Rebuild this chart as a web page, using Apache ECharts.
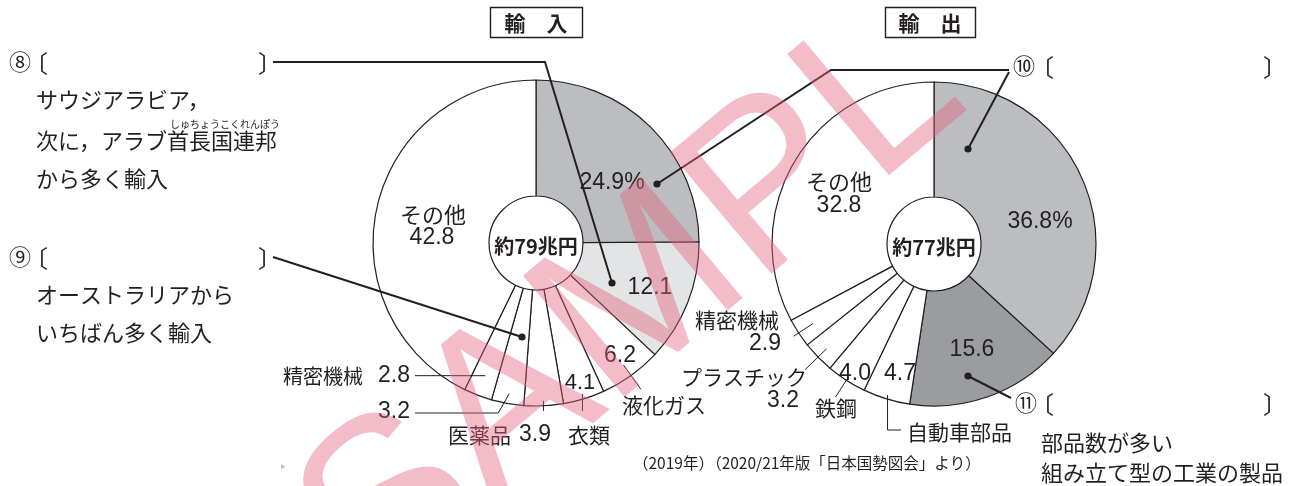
<!DOCTYPE html>
<html><head><meta charset="utf-8">
<script src="https://cdn.jsdelivr.net/npm/echarts@6/dist/echarts.min.js"></script>
<style>html,body{margin:0;padding:0;background:#fff}#c{width:1292px;height:486px}</style>
</head><body><div id="c"></div>
<script>
// ---- data ----
const importCategories = ['⑩', '⑧', '液化ガス', '衣類', '医薬品', '⑨', '精密機械', 'その他'];
const importValues = [24.9, 12.1, 6.2, 4.1, 3.9, 3.2, 2.8, 42.8];
const exportCategories = ['⑩', '⑪', '自動車部品', '鉄鋼', 'プラスチック', '精密機械', 'その他'];
const exportValues = [36.8, 15.6, 4.7, 4.0, 3.2, 2.9, 32.8];
const importTotal = '約79兆円';
const exportTotal = '約77兆円';
const titles = ['輸　入', '輸　出'];
const sourceNote = '（2019年）（2020/21年版「日本国勢図会」より）';
const watermarkText = 'SAMPL';

// ---- styles / layout ----
const importColors = ['#bcbdc0', '#e3e4e6', '#ffffff', '#ffffff', '#ffffff', '#ffffff', '#ffffff', '#ffffff'];
const exportColors = ['#bcbdc0', '#9b9c9f', '#ffffff', '#ffffff', '#ffffff', '#ffffff', '#ffffff'];
const L = {cx: 536, cy: 243, r0: 47, r: 163};
const R = {cx: 934, cy: 244, r0: 47, r: 162};
const INK = '#231f20';
const JP = '"Noto Sans CJK JP", sans-serif';
const NUM = '"Liberation Sans", Arial, "Noto Sans CJK JP", sans-serif';

function angles(vals) {
  const tot = vals.reduce((a, b) => a + b, 0);
  let acc = 0;
  return vals.map(v => { const a0 = acc / tot * 360; acc += v; const a1 = acc / tot * 360; return {a0, a1, mid: (a0 + a1) / 2}; });
}
function polar(c, r, deg) { const t = deg * Math.PI / 180; return [c.cx + r * Math.sin(t), c.cy - r * Math.cos(t)]; }
const fmt = v => v.toFixed(1);

const LA = angles(importValues), RA = angles(exportValues);

function T(text, x, y, font, align, valign, fill) {
  return {type: 'text', x: x, y: y, z: 100, silent: true,
    style: {text: text, fill: fill || INK, font: font, align: align || 'left', verticalAlign: valign || 'middle',
      textAlign: align || 'left', textVerticalAlign: valign || 'middle'}};
}
function Ln(points, w) { return {type: 'polyline', z: 90, silent: true, shape: {points: points}, style: {stroke: INK, lineWidth: w || 1, fill: null}}; }
function Dot(x, y) { return {type: 'circle', z: 95, silent: true, shape: {cx: x, cy: y, r: 3.6}, style: {fill: INK}}; }

const g = [];
// titles
g.push({type: 'rect', z: 90, shape: {x: 490.5, y: 7.5, width: 92, height: 30}, style: {fill: '#fff', stroke: INK, lineWidth: 1.4}});
g.push(T(titles[0], 536, 23, 'bold 21px ' + JP, 'center'));
g.push({type: 'rect', z: 90, shape: {x: 885.5, y: 7.5, width: 90, height: 30}, style: {fill: '#fff', stroke: INK, lineWidth: 1.4}});
g.push(T(titles[1], 930, 23, 'bold 21px ' + JP, 'center'));

// centre totals
g.push(T(importTotal, L.cx, L.cy + 3, 'bold 20px ' + JP, 'center'));
g.push(T(exportTotal, R.cx, R.cy + 3, 'bold 20px ' + JP, 'center'));

// ---- import labels ----
g.push(T(fmt(importValues[0]) + '%', 612, 183, '23px ' + NUM, 'center'));
g.push(T(fmt(importValues[1]), 650, 288, '23px ' + NUM, 'center'));
g.push(T(fmt(importValues[2]), 620, 356, '23px ' + NUM, 'center'));
g.push(T(fmt(importValues[3]), 580, 383, '22px ' + NUM, 'center'));
g.push(T(importCategories[2], 622, 405, '21px ' + JP, 'left'));
g.push(T(importCategories[3], 589, 435, '21px ' + JP, 'center'));
g.push(T(importCategories[4], 448, 435, '21px ' + JP, 'left'));
g.push(T(fmt(importValues[4]), 519, 435, '23px ' + NUM, 'left'));
g.push(T(fmt(importValues[5]), 410, 412, '23px ' + NUM, 'right'));
g.push(T(importCategories[6], 283, 376, '20px ' + JP, 'left'));
g.push(T(fmt(importValues[6]), 410, 376, '23px ' + NUM, 'right'));
g.push(T(importCategories[7], 433, 215, '22px ' + JP, 'center'));
g.push(T(fmt(importValues[7]), 432, 238, '23px ' + NUM, 'center'));
// import leaders
(function () {
  let a = polar(L, 150, LA[2].mid), b = polar(L, 180, LA[2].mid);
  g.push(Ln([a, b]));
  a = polar(L, 158, LA[3].mid); g.push(Ln([a, [a[0], 411]]));
  a = polar(L, 158, LA[4].mid); g.push(Ln([a, [a[0], 411]]));
  a = polar(L, 153, LA[5].mid); g.push(Ln([a, [a[0] - 11, 413], [415, 413]]));
  a = polar(L, 142, LA[6].mid); g.push(Ln([a, [415, a[1]]]));
})();

// ---- export labels ----
g.push(T(fmt(exportValues[0]) + '%', 1040, 222, '23px ' + NUM, 'center'));
g.push(T(fmt(exportValues[1]), 972, 350, '23px ' + NUM, 'center'));
g.push(T(fmt(exportValues[2]), 900, 374, '23px ' + NUM, 'center'));
g.push(T(fmt(exportValues[3]), 855, 374, '23px ' + NUM, 'center'));
g.push(T(exportCategories[2], 907, 432, '21px ' + JP, 'left'));
g.push(T(exportCategories[3], 836, 408, '21px ' + JP, 'center'));
g.push(T(exportCategories[4], 744, 377, '21px ' + JP, 'center'));
g.push(T(fmt(exportValues[4]), 799, 401, '23px ' + NUM, 'right'));
g.push(T(exportCategories[5], 737, 320, '21px ' + JP, 'center'));
g.push(T(fmt(exportValues[5]), 781, 344, '23px ' + NUM, 'right'));
g.push(T(exportCategories[6], 839, 182, '22px ' + JP, 'center'));
g.push(T(fmt(exportValues[6]), 839, 206, '23px ' + NUM, 'center'));
(function () {
  let a = polar(R, 158, RA[2].mid); g.push(Ln([a, [a[0], 430], [901, 430]]));
  a = polar(R, 160, RA[3].mid); let b = polar(R, 182, RA[3].mid); g.push(Ln([a, b]));
  a = polar(R, 150, RA[4].mid); b = polar(R, 180, RA[4].mid); g.push(Ln([a, b]));
  a = polar(R, 145, RA[5].mid); b = polar(R, 168, RA[5].mid); g.push(Ln([a, b]));
})();

// ---- annotations ----
const CIRC = '22px ' + JP;
const BR = '24px ' + JP;
// 8
g.push(T('⑧', 20, 62, CIRC, 'center'));
g.push(T('〔', 24, 63, BR, 'left'));
g.push(T('〕', 258, 63, BR, 'left'));
g.push(Ln([[273, 62], [545, 62], [612, 283]], 2));
g.push(Dot(612, 283));
g.push(T('サウジアラビア，', 36, 100, '22px ' + JP));
g.push(T('しゅちょうこくれんぽう', 170, 124, '10px ' + JP));
g.push(T('次に，アラブ首長国連邦', 36, 141, '22px ' + JP));
g.push(T('から多く輸入', 36, 179, '22px ' + JP));
// 9
g.push(T('⑨', 20, 257, CIRC, 'center'));
g.push(T('〔', 24, 258, BR, 'left'));
g.push(T('〕', 258, 258, BR, 'left'));
g.push(Ln([[273, 257], [522, 337]], 2));
g.push(Dot(522, 337));
g.push(T('オーストラリアから', 36, 295, '22px ' + JP));
g.push(T('いちばん多く輸入', 36, 333, '22px ' + JP));
// 10
g.push(T('⑩', 1024, 66, CIRC, 'center'));
g.push(T('〔', 1030, 67, BR, 'left'));
g.push(T('〕', 1263, 67, BR, 'left'));
g.push(Ln([[657, 184], [831, 70], [1009, 70]], 2));
g.push(Ln([[1009, 72], [968, 149]], 2));
g.push(Dot(657, 184));
g.push(Dot(968, 149));
// 11
g.push(T('⑪', 1026, 403, CIRC, 'center'));
g.push(T('〔', 1030, 404, BR, 'left'));
g.push(T('〕', 1263, 404, BR, 'left'));
g.push(Ln([[968, 376], [1011, 398]], 2));
g.push(Dot(968, 376));
g.push(T('部品数が多い', 1041, 443, '22px ' + JP));
g.push(T('組み立て型の工業の製品', 1041, 473, '22px ' + JP));
// source
g.push(T(sourceNote, 633, 463, '15.5px ' + JP));
g.push(T('▸', 283, 466, '9px ' + JP, 'center', 'middle', '#bbb'));
// watermark
g.push({type: 'text', x: 633, y: 307, z: 200, silent: true, rotation: 40 * Math.PI / 180,
  style: {text: watermarkText, font: '230px "Liberation Sans", Arial, sans-serif', fill: 'rgba(228,95,125,0.42)',
    align: 'center', verticalAlign: 'middle', textAlign: 'center', textVerticalAlign: 'middle'}});

function pieSeries(c, cats, vals, cols) {
  return {
    type: 'pie', center: [c.cx, c.cy], radius: [c.r0, c.r], startAngle: 90, clockwise: true,
    silent: true, avoidLabelOverlap: false, label: {show: false}, labelLine: {show: false},
    itemStyle: {borderColor: INK, borderWidth: 1.2},
    data: vals.map((v, i) => ({name: cats[i], value: v, itemStyle: {color: cols[i]}}))
  };
}

const chart = echarts.init(document.getElementById('c'));
chart.setOption({
  animation: false,
  backgroundColor: '#fff',
  series: [pieSeries(L, importCategories, importValues, importColors), pieSeries(R, exportCategories, exportValues, exportColors)],
  graphic: {elements: g}
});
</script></body></html>
